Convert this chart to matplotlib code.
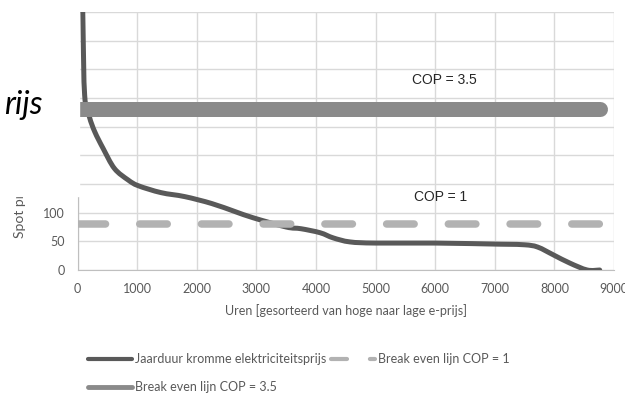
import matplotlib
matplotlib.use('Agg')
import matplotlib.pyplot as plt
import numpy as np
from matplotlib.lines import Line2D
from matplotlib.patches import Rectangle, PathPatch
from matplotlib.path import Path

plt.rcParams['font.family'] = ['Lato', 'DejaVu Sans']

# jaarduurkromme: uren (gesorteerd) en spotprijs
uren = [0, 50, 90, 120, 200, 290, 430, 620, 850, 1020, 1400, 1800, 2250,
        2640, 2950, 3500, 3750, 4070, 4290, 4570, 5000, 6000, 7100, 7500,
        7720, 7990, 8260, 8550, 8760]
prijs = [1500, 700, 440, 305, 267, 241, 212, 177, 157, 147, 135, 128, 116,
         102, 91, 75, 72, 65, 56, 49, 47, 47, 45, 44, 40, 26, 12, 0, 0]

# break even lijnen
cop_1 = 80
cop_35 = 280
lijn_uren = [0, 8760]

grijs_tekst = '#595959'


def smooth_path(x, y):
    # vloeiende lijn (zoals Excel): Catmull-Rom omgezet naar Bezier
    p = np.column_stack([x, y]).astype(float)
    pts = [p[0]]
    codes = [Path.MOVETO]
    for i in range(len(p) - 1):
        p0 = p[i - 1] if i > 0 else p[i]
        p3 = p[i + 2] if i + 2 < len(p) else p[i + 1]
        c1 = p[i] + (p[i + 1] - p0) / 6
        c2 = p[i + 1] - (p3 - p[i]) / 6
        pts += [c1, c2, p[i + 1]]
        codes += [Path.CURVE4] * 3
    return Path(pts, codes)


fig = plt.figure(figsize=(6.25, 3.94), dpi=100)
ax = fig.add_axes([0.124, 0.3147, 0.8584, 0.6548])

ax.add_patch(PathPatch(smooth_path(uren, prijs), fill=False, edgecolor='#595959',
                       lw=3.6, capstyle='round', joinstyle='round', zorder=3))
ax.plot(lijn_uren, [cop_1, cop_1], color='#b2b2b2', lw=5.4,
        dashes=[3.67, 4.56], dash_capstyle='round', zorder=4)
ax.plot(lijn_uren, [cop_35, cop_35], color='#8a8a8a', lw=10.8,
        solid_capstyle='round', zorder=5)

ax.text(6160, 331, 'COP = 3.5', ha='center', va='center', fontsize=10,
        family='Liberation Sans', color='#262626')
ax.text(6090, 128, 'COP = 1', ha='center', va='center', fontsize=10,
        family='Liberation Sans', color='#262626')

ax.set_xlim(0, 9000)
ax.set_ylim(0, 450)
ax.set_xticks(range(0, 9001, 1000))
ax.set_yticks(range(0, 451, 50))
ax.grid(True, color='#d9d9d9', lw=1)
ax.set_axisbelow(True)
for s in ['top', 'right']:
    ax.spines[s].set_visible(False)
for s in ['left', 'bottom']:
    ax.spines[s].set_color('#bfbfbf')
ax.tick_params(length=0, labelsize=9, labelcolor=grijs_tekst, pad=9)

ax.set_xlabel('Uren [gesorteerd van hoge naar lage e-prijs]', fontsize=9,
              color=grijs_tekst, labelpad=7)
ax.set_ylabel('Spot prijs [€/MWh]', fontsize=10, color=grijs_tekst,
              ha='left', va='center')
ax.yaxis.set_label_coords(-0.109, 0.124)

# legenda
handles = [
    Line2D([], [], color='#595959', lw=3, solid_capstyle='round'),
    Line2D([], [], color='#8a8a8a', lw=3.5, solid_capstyle='round'),
    Line2D([], [], color='#b2b2b2', lw=3, dashes=[3.84, 5.5], dash_capstyle='round'),
]
labels = ['Jaarduur kromme elektriciteitsprijs', 'Break even lijn COP = 3.5',
          'Break even lijn COP = 1']
fig.legend(handles, labels, ncol=2, loc='upper left',
           bbox_to_anchor=(0.141, 0.104), frameon=False, fontsize=9,
           labelcolor=grijs_tekst, handlelength=3.5, handletextpad=0.25,
           columnspacing=0.4, labelspacing=1.3, borderpad=0, borderaxespad=0)

# witte afdekking links boven en titelrest
fig.add_artist(Rectangle((0, 1 - 196 / 394), 79 / 625, 196 / 394,
                         transform=fig.transFigure, color='white', zorder=10))
fig.text(43 / 625, 1 - 114 / 394, 'rijs', ha='right', va='baseline',
         fontsize=23, style='italic', color='black', zorder=11)

fig.savefig('out.png', dpi=100)
